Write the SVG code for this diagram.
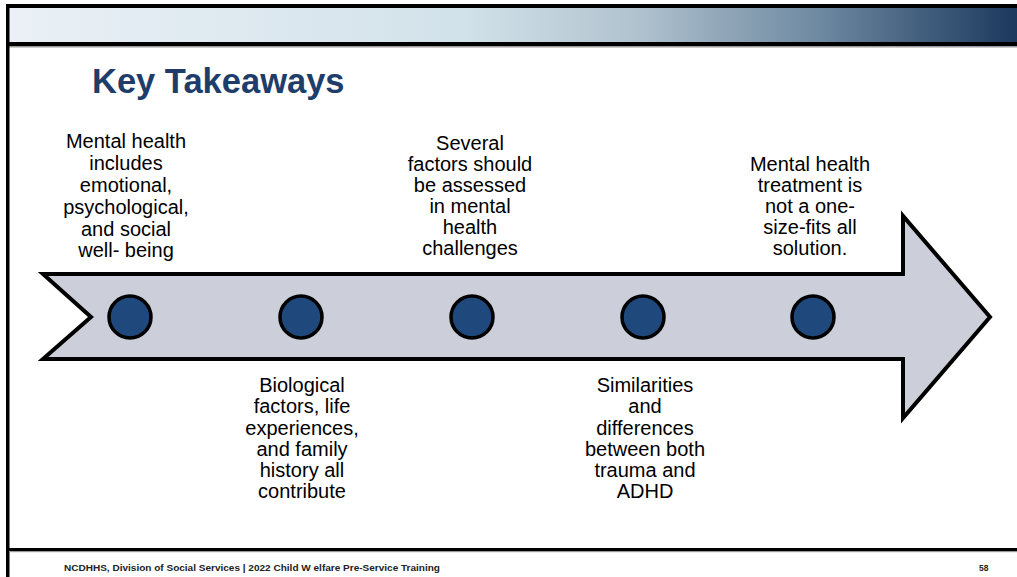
<svg xmlns="http://www.w3.org/2000/svg" width="1017" height="577" viewBox="0 0 1017 577">
<defs>
<linearGradient id="hdr" x1="0" y1="0" x2="1" y2="0">
<stop offset="0" stop-color="#EAF0F6"/>
<stop offset="0.45" stop-color="#D2E2EA"/>
<stop offset="0.62" stop-color="#B1C3CF"/>
<stop offset="0.8" stop-color="#6F8AA2"/>
<stop offset="1" stop-color="#1C395E"/>
</linearGradient>
<style>
.t{font-family:"Liberation Sans",Arial,sans-serif;font-size:20px;fill:#000;text-anchor:middle}
.dot{fill:#1F487C;stroke:#000;stroke-width:3.5}
.ft{font-family:"Liberation Sans",Arial,sans-serif;font-size:8.5px;font-weight:bold;fill:#222}
</style>
</defs>
<rect width="1017" height="577" fill="#fff"/>
<g id="frame">
<rect x="9" y="8" width="1008" height="34" fill="url(#hdr)"/>
<rect x="6" y="4" width="1011" height="4" fill="#000"/>
<rect x="6" y="42" width="1011" height="4" fill="#000"/>
<rect x="9" y="46" width="1008" height="1.5" fill="#9a9a9a"/>
<rect x="6" y="4" width="3.5" height="573" fill="#000"/>
<rect x="6" y="548" width="1011" height="3" fill="#000"/>
<rect x="9" y="551" width="1008" height="1.2" fill="#9a9a9a"/>
</g>
<text x="92" y="93" style="font-family:'Liberation Sans',Arial,sans-serif;font-size:34.5px;font-weight:bold;fill:#1F3D6A">Key Takeaways</text>
<g id="arrow">
<polygon points="43,274 903,274 903,216 990,317 903,418 903,359 43,359 91,317" fill="#CCCFD9" stroke="#000" stroke-width="4" stroke-linejoin="miter"/>
</g>
<g id="node1">
<circle class="dot" cx="130" cy="317" r="21"/>
<text class="t" x="126"><tspan x="126" y="148">Mental health</tspan><tspan x="126" y="170">includes</tspan><tspan x="126" y="192">emotional,</tspan><tspan x="126" y="214">psychological,</tspan><tspan x="126" y="236">and social</tspan><tspan x="126" y="257">well- being</tspan></text>
</g>
<g id="node2">
<circle class="dot" cx="301" cy="317" r="21"/>
<text class="t" x="302"><tspan x="302" y="392">Biological</tspan><tspan x="302" y="413">factors, life</tspan><tspan x="302" y="435">experiences,</tspan><tspan x="302" y="456">and family</tspan><tspan x="302" y="477">history all</tspan><tspan x="302" y="498">contribute</tspan></text>
</g>
<g id="node3">
<circle class="dot" cx="472" cy="317" r="21"/>
<text class="t" x="470"><tspan x="470" y="150">Several</tspan><tspan x="470" y="171">factors should</tspan><tspan x="470" y="192">be assessed</tspan><tspan x="470" y="213">in mental</tspan><tspan x="470" y="234">health</tspan><tspan x="470" y="255">challenges</tspan></text>
</g>
<g id="node4">
<circle class="dot" cx="643" cy="317" r="21"/>
<text class="t" x="645"><tspan x="645" y="392">Similarities</tspan><tspan x="645" y="413">and</tspan><tspan x="645" y="435">differences</tspan><tspan x="645" y="456">between both</tspan><tspan x="645" y="477">trauma and</tspan><tspan x="645" y="498">ADHD</tspan></text>
</g>
<g id="node5">
<circle class="dot" cx="813" cy="317" r="21"/>
<text class="t" x="810"><tspan x="810" y="171">Mental health</tspan><tspan x="810" y="192">treatment is</tspan><tspan x="810" y="213">not a one-</tspan><tspan x="810" y="234">size-fits all</tspan><tspan x="810" y="255">solution.</tspan></text>
</g>
<g id="connectors"></g>
<text class="ft" x="64" y="571" textLength="376" lengthAdjust="spacingAndGlyphs">NCDHHS, Division of Social Services | 2022 Child W elfare Pre-Service Training</text>
<text class="ft" x="979" y="571">58</text>
</svg>
